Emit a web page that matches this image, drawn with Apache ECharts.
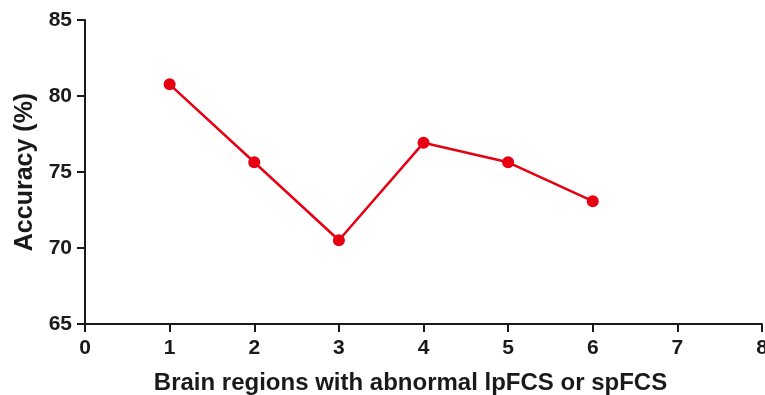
<!DOCTYPE html>
<html><head><meta charset="utf-8">
<script src="https://cdn.jsdelivr.net/npm/echarts@6/dist/echarts.min.js"></script>
<style>html,body{margin:0;padding:0;background:#fff}#c{width:765px;height:395px}</style>
</head><body><div id="c"></div>
<script>
var xValues = [1, 2, 3, 4, 5, 6];
var accuracy = [80.77, 75.64, 70.51, 76.92, 75.64, 73.08];
var xTicks = [0, 1, 2, 3, 4, 5, 6, 7, 8];
var yTicks = [65, 70, 75, 80, 85];
var xName = 'Brain regions with abnormal lpFCS or spFCS';
var yName = 'Accuracy (%)';

var chart = echarts.init(document.getElementById('c'), null, {renderer: 'canvas'});
var font = 'Liberation Sans, Arial, sans-serif';
chart.setOption({
  animation: false,
  grid: {left: 85, right: 3, top: 20, bottom: 71, containLabel: false, outerBoundsMode: 'none'},
  xAxis: {
    type: 'value', min: xTicks[0], max: xTicks[xTicks.length-1], interval: 1,
    name: xName, nameLocation: 'middle', nameGap: 47,
    nameTextStyle: {fontFamily: font, fontWeight: 'bold', fontSize: 24, color: '#1a1a1a', padding: [0, 26, 0, 0]},
    axisLine: {lineStyle: {color: '#1a1a1a', width: 2}},
    axisTick: {show: true, length: 8, lineStyle: {color: '#1a1a1a', width: 2}},
    axisLabel: {fontFamily: font, fontWeight: 'bold', fontSize: 21, color: '#1a1a1a', margin: 14},
    splitLine: {show: false}
  },
  yAxis: {
    type: 'value', min: yTicks[0], max: yTicks[yTicks.length-1], interval: 5,
    name: yName, nameLocation: 'middle', nameGap: 47,
    nameTextStyle: {fontFamily: font, fontWeight: 'bold', fontSize: 25, color: '#1a1a1a'},
    axisLine: {show: true, lineStyle: {color: '#1a1a1a', width: 2}},
    axisTick: {show: true, length: 8, lineStyle: {color: '#1a1a1a', width: 2}},
    axisLabel: {fontFamily: font, fontWeight: 'bold', fontSize: 21, color: '#1a1a1a', margin: 13},
    splitLine: {show: false}
  },
  series: [{
    type: 'line',
    data: xValues.map(function(x, i){ return [x, accuracy[i]]; }),
    symbol: 'circle', symbolSize: 12,
    itemStyle: {color: '#e60012'},
    lineStyle: {color: '#e60012', width: 2.5}
  }]
});
</script></body></html>
